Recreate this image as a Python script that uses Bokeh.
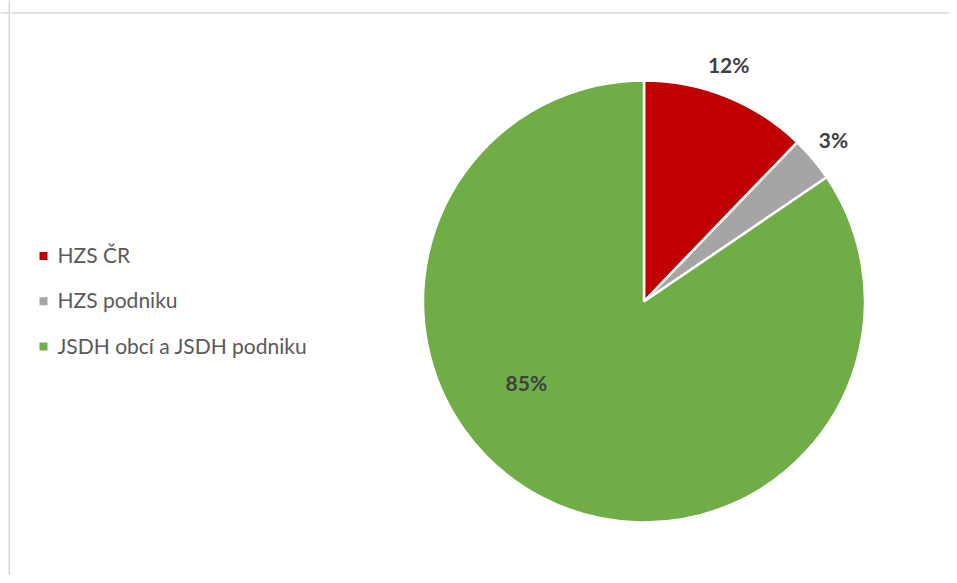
import math
from bokeh.plotting import figure
from bokeh.models import Range1d, Span, ColumnDataSource
from bokeh.core.properties import value
from bokeh.embed import file_html
from bokeh.resources import INLINE

# ---- data ----
categories = ["HZS ČR", "HZS podniku", "JSDH obcí a JSDH podniku"]
shares = [12.2, 3.3, 84.5]
labels = ["12%", "3%", "85%"]
colors = ["#C00000", "#A5A5A5", "#70AD47"]

# ---- layout (pixel-like data space) ----
W, H = 949, 575
cx, cy, R = 643.5, 274.0, 221.0

p = figure(width=W, height=H, output_backend="svg", toolbar_location=None,
           x_range=Range1d(0, W), y_range=Range1d(0, H), min_border=0)
p.axis.visible = False
p.grid.visible = False
p.outline_line_color = None
p.background_fill_color = "white"
p.border_fill_color = "white"

# chart area border (top and left visible)
p.add_layout(Span(location=H - 12.5, dimension="width", line_color="#D9D9D9", line_width=1.5))
p.add_layout(Span(location=8.7, dimension="height", line_color="#D9D9D9", line_width=1.5))

total = sum(shares)
starts, ends, mids = [], [], []
acc = 0.0
for s in shares:
    a0 = math.pi / 2 - 2 * math.pi * acc / total
    acc += s
    a1 = math.pi / 2 - 2 * math.pi * acc / total
    starts.append(a0)
    ends.append(a1)
    mids.append((a0 + a1) / 2)

src = ColumnDataSource(dict(start=starts, end=ends, color=colors))
p.wedge(x=cx, y=cy, radius=R, start_angle="start", end_angle="end", direction="clock",
        fill_color="color", line_color="white", line_width=2.5, source=src)

# data labels (best-fit placement: two outside, big one inside)
lab_ang = [math.radians(70.2), math.radians(40.2), math.radians(-144.8)]
lab_dist = [R + 29, R + 27, 144]
lx = [cx + d * math.cos(a) for a, d in zip(lab_ang, lab_dist)]
ly = [cy + d * math.sin(a) + 2 for a, d in zip(lab_ang, lab_dist)]
p.text(x=lx, y=ly, text=labels, text_align="center", text_baseline="middle",
       text_font=value("Lato"), text_font_style="bold", text_font_size="21px",
       text_color="#404040")

# legend
leg_x, leg_y0, leg_dy = 43, 319.5, 45.3
ys = [leg_y0 - i * leg_dy for i in range(len(categories))]
p.scatter(x=[leg_x] * len(categories), y=ys, marker="square", size=8,
          fill_color=colors, line_color=None)
p.text(x=[leg_x + 14] * len(categories), y=[y + 1.5 for y in ys], text=categories,
       text_align="left", text_baseline="middle", text_font=value("Lato"),
       text_font_size="21px", text_color="#595959")

open("out.html", "w").write(file_html(p, INLINE))
